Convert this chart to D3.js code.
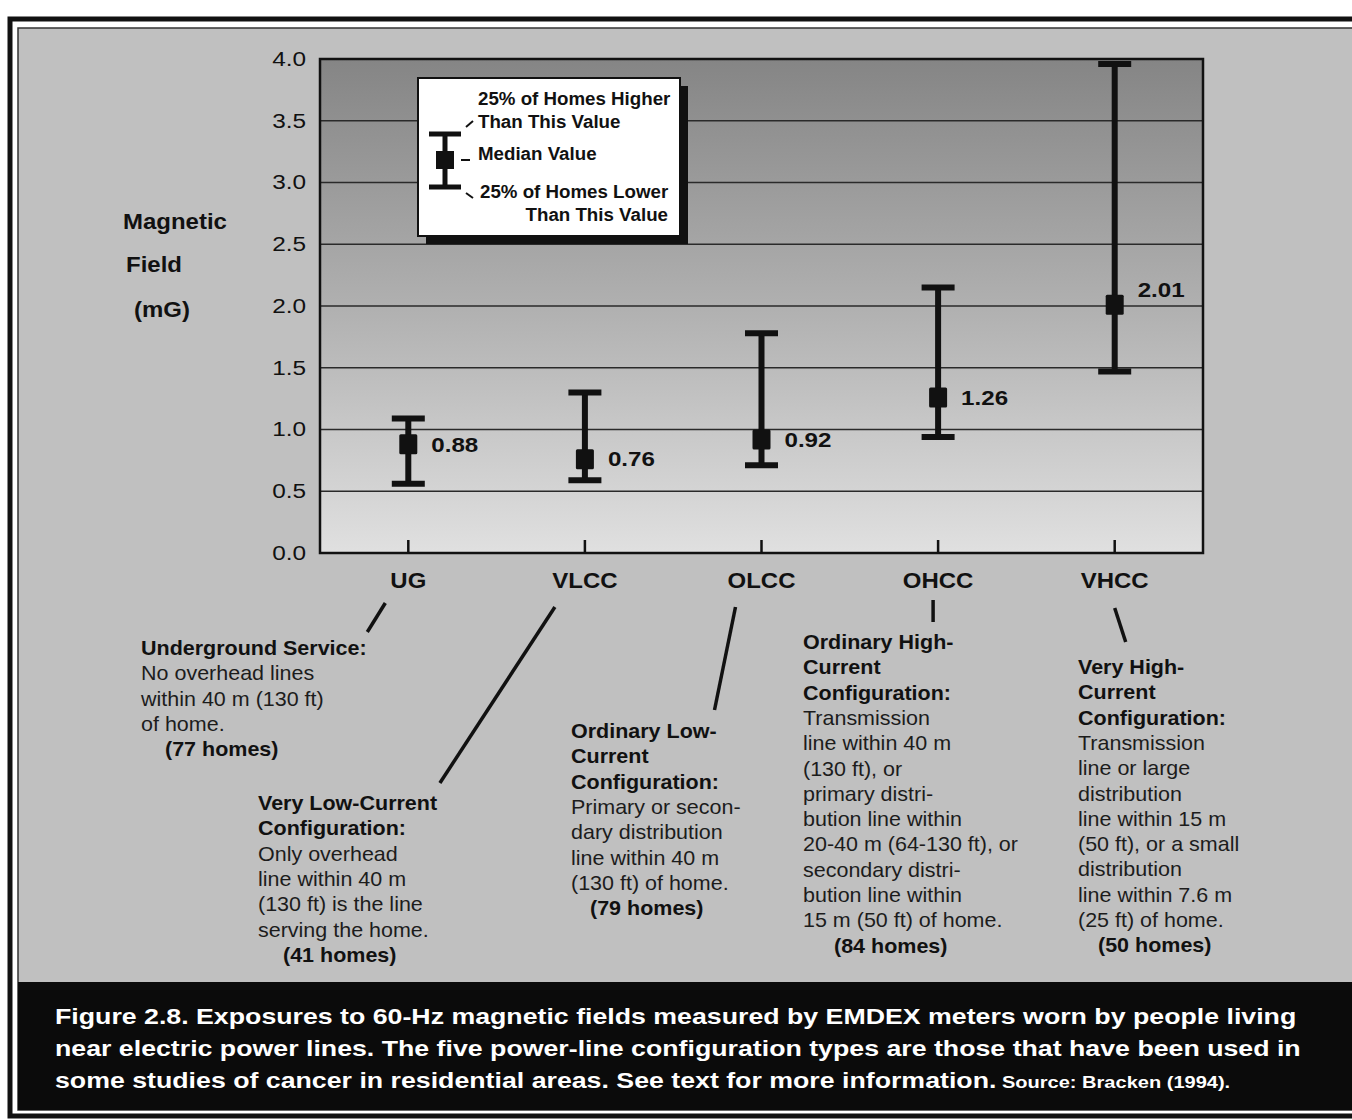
<!DOCTYPE html>
<html><head><meta charset="utf-8">
<script src="https://cdn.jsdelivr.net/npm/d3@7"></script>
<style>
body{margin:0;background:#fff;}
text{font-family:"Liberation Sans",Arial,Helvetica,sans-serif;fill:#111;}
</style>
</head><body>
<svg id="c" width="1352" height="1120"></svg>
<script>
// ---------- data ----------
const categories = ["UG", "VLCC", "OLCC", "OHCC", "VHCC"];
const medians = [0.88, 0.76, 0.92, 1.26, 2.01];
const lowerQuartile = [0.56, 0.59, 0.71, 0.94, 1.47];
const upperQuartile = [1.09, 1.30, 1.78, 2.15, 3.96];
const yTicks = [0, 0.5, 1.0, 1.5, 2.0, 2.5, 3.0, 3.5, 4.0];
const homes = [77, 41, 79, 84, 50];
const descTitles = [
  ["Underground Service:"],
  ["Very Low-Current", "Configuration:"],
  ["Ordinary Low-", "Current", "Configuration:"],
  ["Ordinary High-", "Current", "Configuration:"],
  ["Very High-", "Current", "Configuration:"]
];
const descBodies = [
  ["No overhead lines", "within 40 m (130 ft)", "of home."],
  ["Only overhead", "line within 40 m", "(130 ft) is the line", "serving the home."],
  ["Primary or secon-", "dary distribution", "line within 40 m", "(130 ft) of home."],
  ["Transmission", "line within 40 m", "(130 ft), or", "primary distri-", "bution line within", "20-40 m (64-130 ft), or", "secondary distri-", "bution line within", "15 m (50 ft) of home."],
  ["Transmission", "line or large", "distribution", "line within 15 m", "(50 ft), or a small", "distribution", "line within 7.6 m", "(25 ft) of home."]
];
const legendLabels = ["25% of Homes Higher", "Than This Value", "Median Value", "25% of Homes Lower", "Than This Value"];
const yTitle = ["Magnetic", "Field", "(mG)"];
const captionLines = [
  "Figure 2.8. Exposures to 60-Hz magnetic fields measured by EMDEX meters worn by people living",
  "near electric power lines. The five power-line configuration types are those that have been used in",
  "some studies of cancer in residential areas. See text for more information."
];
const captionSource = "Source: Bracken (1994).";

// ---------- layout ----------
const svg = d3.select("#c");
const plot = {left: 320, right: 1203, top: 59, bottom: 553};
const descLayout = [
  {x: 141, y: 648, hx: 165},
  {x: 258, y: 803, hx: 283},
  {x: 571, y: 731, hx: 590},
  {x: 803, y: 642, hx: 834},
  {x: 1078, y: 667, hx: 1098}
];
const leaderOffsets = [[-23, 603, -41, 632], [-30, 607, -145, 783], [-26, 607, -47, 710], [-5, 600, -5, 622], [0, 608, 11, 642]];
const labelNudge = [0, 0, 0, 0, -15];
const lineH = 25.3;

// text helper: horizontally stretched glyphs like the scanned original
function addText(parent, x, y, str, o) {
  return parent.append("text")
    .attr("transform", `translate(${x},${y}) scale(${o.sx || 1},1)`)
    .attr("dy", "0.35em")
    .attr("text-anchor", o.anchor || "start")
    .attr("font-size", o.size)
    .attr("font-weight", o.bold ? "bold" : "normal")
    .style("fill", o.fill || "#111")
    .text(str);
}

const defs = svg.append("defs");
const grad = defs.append("linearGradient").attr("id", "pg").attr("x1", 0).attr("y1", 0).attr("x2", 0).attr("y2", 1);
grad.append("stop").attr("offset", "0%").attr("stop-color", "#858585");
grad.append("stop").attr("offset", "50%").attr("stop-color", "#b0b0b0");
grad.append("stop").attr("offset", "100%").attr("stop-color", "#e0e0e0");

// frame
svg.append("rect").attr("x", 10).attr("y", 19).attr("width", 1360).attr("height", 1097)
  .attr("fill", "#fff").attr("stroke", "#111").attr("stroke-width", 5);
svg.append("rect").attr("x", 18).attr("y", 28).attr("width", 1340).attr("height", 1082)
  .attr("fill", "#c0c0c0").attr("stroke", "#333").attr("stroke-width", 1.5);
svg.append("rect").attr("x", 18).attr("y", 982).attr("width", 1340).attr("height", 128).attr("fill", "#0b0b0b");

// scales
const x = d3.scaleBand().domain(categories).range([plot.left, plot.right]).padding(0);
const cx = c => x(c) + x.bandwidth() / 2;
const y = d3.scaleLinear().domain([0, 4]).range([plot.bottom, plot.top]);

// plot background
svg.append("rect").attr("x", plot.left).attr("y", plot.top)
  .attr("width", plot.right - plot.left).attr("height", plot.bottom - plot.top)
  .attr("fill", "url(#pg)");

// gridlines
svg.append("g").selectAll("line").data(yTicks.filter(t => t > 0 && t < 4)).join("line")
  .attr("x1", plot.left).attr("x2", plot.right)
  .attr("y1", d => y(d)).attr("y2", d => y(d))
  .attr("stroke", "#2a2a2a").attr("stroke-width", 1.3);

// y axis (tick labels drawn from the axis, then stretched)
const yAxis = svg.append("g").attr("transform", `translate(${plot.left},0)`)
  .call(d3.axisLeft(y).tickValues(yTicks).tickFormat(d3.format(".1f")).tickSize(0).tickPadding(14));
yAxis.select(".domain").remove();
yAxis.selectAll(".tick text")
  .attr("font-size", 19.5).style("fill", "#111")
  .style("font-family", '"Liberation Sans",Arial,sans-serif')
  .attr("transform", function () { const xx = +d3.select(this).attr("x"); return `translate(${xx},0) scale(1.25,1)`; })
  .attr("x", 0);

// x axis ticks (inside)
const xAxis = svg.append("g").attr("transform", `translate(0,${plot.bottom})`)
  .call(d3.axisBottom(x).tickSize(-13).tickFormat(""));
xAxis.select(".domain").remove();
xAxis.selectAll("line").attr("stroke", "#111").attr("stroke-width", 2.5);

// plot border
svg.append("rect").attr("x", plot.left).attr("y", plot.top)
  .attr("width", plot.right - plot.left).attr("height", plot.bottom - plot.top)
  .attr("fill", "none").attr("stroke", "#111").attr("stroke-width", 2.5);

// category labels
const catG = svg.append("g");
categories.forEach(c => addText(catG, cx(c), 580, c, {size: 22, bold: true, anchor: "middle", sx: 1.09}));

// error bars
const capW = 33;
const bars = svg.append("g").selectAll("g").data(categories).join("g");
bars.append("line")
  .attr("x1", d => cx(d)).attr("x2", d => cx(d))
  .attr("y1", (d, i) => y(lowerQuartile[i])).attr("y2", (d, i) => y(upperQuartile[i]))
  .attr("stroke", "#111").attr("stroke-width", 6);
bars.append("line")
  .attr("x1", d => cx(d) - capW / 2).attr("x2", d => cx(d) + capW / 2)
  .attr("y1", (d, i) => y(lowerQuartile[i])).attr("y2", (d, i) => y(lowerQuartile[i]))
  .attr("stroke", "#111").attr("stroke-width", 6);
bars.append("line")
  .attr("x1", d => cx(d) - capW / 2).attr("x2", d => cx(d) + capW / 2)
  .attr("y1", (d, i) => y(upperQuartile[i])).attr("y2", (d, i) => y(upperQuartile[i]))
  .attr("stroke", "#111").attr("stroke-width", 6);
bars.append("rect")
  .attr("x", d => cx(d) - 9).attr("y", (d, i) => y(medians[i]) - 10)
  .attr("width", 18).attr("height", 20).attr("rx", 1.5).attr("fill", "#111");
bars.each(function (d, i) {
  addText(d3.select(this), cx(d) + 23, y(medians[i]) + labelNudge[i], medians[i].toFixed(2), {size: 21, bold: true, sx: 1.15});
});

// legend
const lg = svg.append("g");
lg.append("rect").attr("x", 426).attr("y", 86).attr("width", 262).attr("height", 158).attr("fill", "#111");
lg.append("rect").attr("x", 418).attr("y", 78).attr("width", 262).attr("height", 158)
  .attr("fill", "#fff").attr("stroke", "#111").attr("stroke-width", 2);
const lx = 445;
lg.append("line").attr("x1", lx).attr("x2", lx).attr("y1", 134).attr("y2", 187).attr("stroke", "#111").attr("stroke-width", 5);
lg.append("line").attr("x1", lx - 16).attr("x2", lx + 16).attr("y1", 134).attr("y2", 134).attr("stroke", "#111").attr("stroke-width", 5);
lg.append("line").attr("x1", lx - 16).attr("x2", lx + 16).attr("y1", 187).attr("y2", 187).attr("stroke", "#111").attr("stroke-width", 5);
lg.append("rect").attr("x", lx - 9).attr("y", 151).attr("width", 18).attr("height", 18).attr("fill", "#111");
lg.append("line").attr("x1", 461).attr("x2", 470).attr("y1", 160).attr("y2", 160).attr("stroke", "#111").attr("stroke-width", 2);
lg.append("line").attr("x1", 466).attr("x2", 473).attr("y1", 127).attr("y2", 121).attr("stroke", "#111").attr("stroke-width", 2);
lg.append("line").attr("x1", 466).attr("x2", 473).attr("y1", 193).attr("y2", 198).attr("stroke", "#111").attr("stroke-width", 2);
const legPos = [[478, 99, "start"], [478, 122, "start"], [478, 154, "start"], [480, 192, "start"], [668, 215, "end"]];
legendLabels.forEach((t, i) => addText(lg, legPos[i][0], legPos[i][1], t, {size: 17.5, bold: true, anchor: legPos[i][2], sx: 1.07}));

// y title
const yt = [[123, 221], [126, 264], [134, 309]];
const ytG = svg.append("g");
yTitle.forEach((t, i) => addText(ytG, yt[i][0], yt[i][1], t, {size: 22, bold: true, sx: 1.09}));

// leader lines
svg.append("g").selectAll("line").data(categories).join("line")
  .attr("x1", (d, i) => cx(d) + leaderOffsets[i][0]).attr("y1", (d, i) => leaderOffsets[i][1])
  .attr("x2", (d, i) => cx(d) + leaderOffsets[i][2]).attr("y2", (d, i) => leaderOffsets[i][3])
  .attr("stroke", "#111").attr("stroke-width", 3.5);

// descriptions
categories.forEach((c, i) => {
  const L = descLayout[i];
  const g = svg.append("g");
  const lines = descTitles[i].map(t => ({t, b: true})).concat(descBodies[i].map(t => ({t, b: false})));
  lines.forEach((ln, k) => addText(g, L.x, L.y + k * lineH, ln.t, {size: 20, bold: ln.b, sx: 1.075, fill: ln.b ? "#111" : "#1c1c1c"}));
  addText(g, L.hx, L.y + lines.length * lineH, `(${homes[i]} homes)`, {size: 20, bold: true, sx: 1.075});
});

// caption
const capY = [1016, 1048, 1080];
const capG = svg.append("g");
captionLines.forEach((t, i) => {
  const tx = addText(capG, 55, capY[i], t, {size: 22, bold: true, sx: 1.215, fill: "#fff"});
  if (i === 2) tx.append("tspan").attr("font-size", 16.5).text(" " + captionSource);
});
</script>
</body></html>
